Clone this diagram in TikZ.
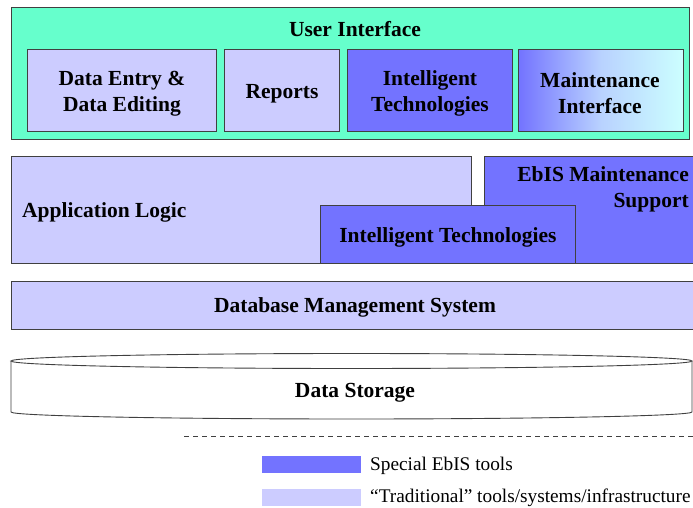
\documentclass[tikz,border=0pt]{standalone}
\usepackage{fontspec}
\setmainfont{Liberation Serif}
\definecolor{teal}{RGB}{102,255,204}
\definecolor{trad}{RGB}{204,204,255}
\definecolor{special}{RGB}{115,115,255}
\definecolor{pale}{RGB}{204,255,255}
\definecolor{edge}{RGB}{64,64,64}
\tikzset{
  base/.style={draw=edge, line width=0.9pt, inner sep=0pt, anchor=north west},
  tradbox/.style={base, fill=trad},
  specbox/.style={base, fill=special},
  label/.style={inner sep=0pt, font=\fontsize{21.5}{26}\selectfont\bfseries, align=center},
  legtext/.style={inner sep=0pt, anchor=west, font=\fontsize{19.3}{23}\selectfont},
  swatch/.style={inner sep=0pt, anchor=north west, draw=none}
}
\begin{document}
\begin{tikzpicture}[x=1pt,y=-1pt]
\useasboundingbox (0,0) rectangle (693,508);
\clip (0,0) rectangle (693,508);
\fill[white] (0,0) rectangle (693,508);
% User interface layer
\node[base, fill=teal, minimum width=678pt, minimum height=132pt] (ui) at (11,7) {};
\node[label] (uit) at (355,29) {User Interface};
\node[tradbox, minimum width=189pt, minimum height=82pt] (de) at (27,49) {};
\node[label] at ([yshift=-3pt]de.center) {Data Entry \&\\Data Editing};
\node[tradbox, minimum width=115pt, minimum height=82pt] (rep) at (224,49) {};
\node[label] at ([yshift=-3pt]rep.center) {Reports};
\node[specbox, minimum width=165pt, minimum height=82pt] (it1) at (347,49) {};
\node[label] at ([yshift=-3pt]it1.center) {Intelligent\\Technologies};
\node[base, left color=special, right color=pale, middle color={rgb,255:red,185;green,210;blue,255},
      minimum width=165pt, minimum height=82pt] (mi) at (518,49) {};
\node[label] at ([xshift=-1pt,yshift=-3pt]mi.center) {Maintenance\\Interface};
% Application layer
\node[tradbox, minimum width=460pt, minimum height=107pt] (al) at (11,156) {};
\node[label, anchor=west] (alt) at (22,212) {Application Logic};
\node[specbox, minimum width=220pt, minimum height=107pt] (ebis) at (484,156) {};
\node[label, anchor=north east, align=right] (ebist) at (689,166) {EbIS Maintenance\\Support};
\node[specbox, minimum width=255pt, minimum height=58pt] (it2) at (320,205) {};
\node[label] at ([yshift=-3pt]it2.center) {Intelligent Technologies};
% DBMS
\node[tradbox, minimum width=690pt, minimum height=48pt] (db) at (11,281) {};
\node[label] (dbt) at (355,307) {Database Management System};
% Data storage cylinder
\draw[edge, line width=0.9pt, fill=white] (11,361) -- (11,412)
   arc[start angle=180, end angle=360, x radius=340.5pt, y radius=7pt] -- (692,361);
\draw[edge, line width=0.9pt, fill=white] (351.5,361) ellipse [x radius=340.5pt, y radius=7.5pt];
\node[label] (ds) at (355,393) {Data Storage};
% Legend
\coordinate (dl) at (184,436);
\coordinate (dr) at (693,436);
\draw[edge, line width=0.9pt, dash pattern=on 5pt off 4pt] (dl) -- (dr);
\node[swatch, fill=special, minimum width=99pt, minimum height=17pt] (sw1) at (262,456) {};
\node[swatch, fill=trad, minimum width=99pt, minimum height=17pt] (sw2) at (262,489) {};
\node[legtext] (l1) at (370,466) {Special EbIS tools};
\node[legtext] (l2) at (370,498) {“Traditional” tools/systems/infrastructure};
\end{tikzpicture}
\end{document}
